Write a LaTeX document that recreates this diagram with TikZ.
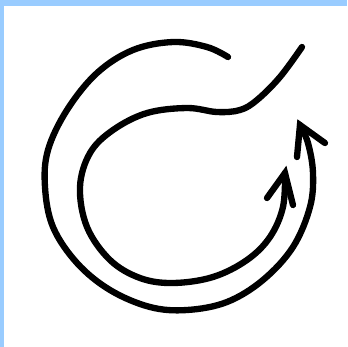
\documentclass[tikz,border=0pt]{standalone}
\usetikzlibrary{math}
\definecolor{myframe}{RGB}{153,204,255}

\begin{document}
\begin{tikzpicture}[x=0.01cm,y=-0.01cm]
\tikzmath{
\W=347;
\topb=6;
\leftb=4;
}
\useasboundingbox (0,0) rectangle (\W,\W);
\fill[color=myframe] (0,0) rectangle (\W,\topb);
\fill[color=myframe] (0,0) rectangle (\leftb,\W);

% outer loop
\draw[line width=1.8pt, line cap=round] plot[smooth, tension=0.6] coordinates {
(228,57) (207,47) (173,42) (133,50) (97,73) (67,110) (48,150) (45,187)
(53,227) (77,263) (110,290) (150,307) (187,310) (227,302) (263,280)
(293,247) (310,207) (313,173) (308,143) (300,125)};
\draw[line width=1.8pt, line cap=round] (297,157) -- (300,125) -- (325,143);

% inner loop
\draw[line width=1.8pt, line cap=round] plot[smooth, tension=0.6] coordinates {
(302,47) (280,77) (257,100) (240,110) (217,112) (187,108) (147,113)
(113,130) (90,153) (80,187) (87,227) (110,260) (140,278) (173,283)
(213,277) (247,260) (270,237) (283,207) (285,173)};
\draw[line width=1.8pt, line cap=round] (267,198) -- (285,173) -- (293,205);
\end{tikzpicture}
\end{document}
